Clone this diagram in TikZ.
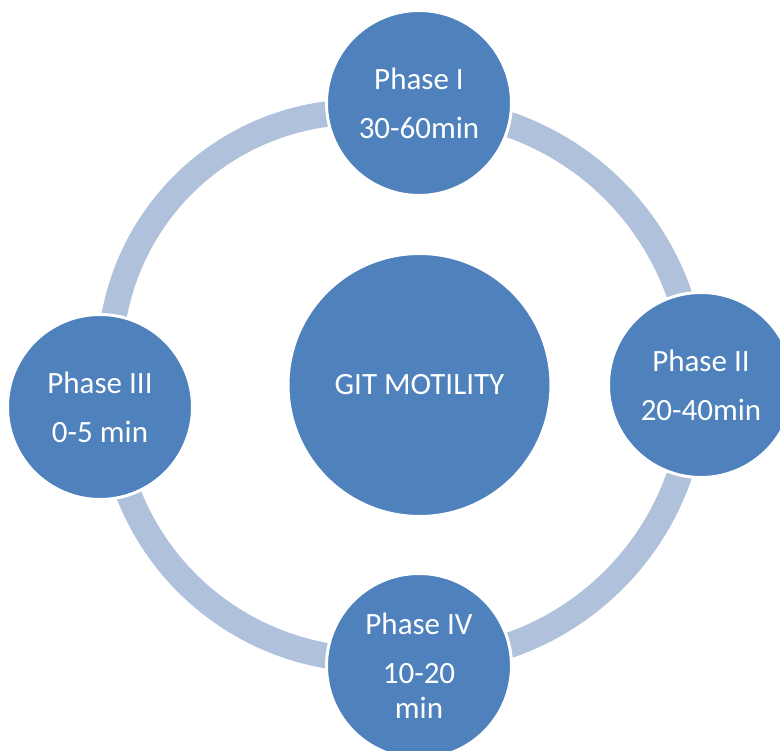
\documentclass[tikz,border=0pt]{standalone}
\usepackage{fontspec}
\setmainfont{Carlito}
\definecolor{phaseblue}{RGB}{79,129,189}
\definecolor{ringblue}{RGB}{176,193,220}
\begin{document}
\begin{tikzpicture}[x=1pt,y=1pt,
  phase/.style={circle, fill=phaseblue, draw=white, line width=3pt,
    minimum size=185pt, inner sep=0pt, text=white, align=center,
    font=\fontsize{31}{35}\selectfont},
  hub/.style={phase, minimum size=263pt},
  ring/.style={draw=ringblue, line width=25.5pt}]
\useasboundingbox (0,0) rectangle (780,751);

% centres of the ring segments
\coordinate (cR)  at (419,366);
\coordinate (cTL) at (359,390);
\coordinate (cBL) at (372,353);

% ring segments linking the phases (drawn first, nodes cover their ends)
\draw[ring] (cR)  ++(90:275.5pt)   arc[start angle=90,    end angle=0,      radius=275.5pt]; % I -> II
\draw[ring] (cR)  ++(0:275.5pt)    arc[start angle=0,     end angle=-90,    radius=275.5pt]; % II -> IV
\draw[ring] (cBL) ++(279.95:261.7pt) arc[start angle=279.95, end angle=181.9, radius=261.7pt]; % IV -> III
\draw[ring] (cTL) ++(190.1:249pt)  arc[start angle=190.1, end angle=76.9,   radius=249pt]; % III -> I

% phases and hub
\node[hub]   (hub) at (419.5,366) {GIT MOTILITY};
\node[phase] (p1)  at (419,648)   {Phase I\\[14pt]30-60min};
\node[phase] (p2)  at (701,366)   {Phase II\\[14pt]20-40min};
\node[phase] (p4)  at (419,85)    {Phase IV\\[14pt]10-20\\min};
\node[phase] (p3)  at (100,344)   {Phase III\\[14pt]0-5 min};
\end{tikzpicture}
\end{document}
